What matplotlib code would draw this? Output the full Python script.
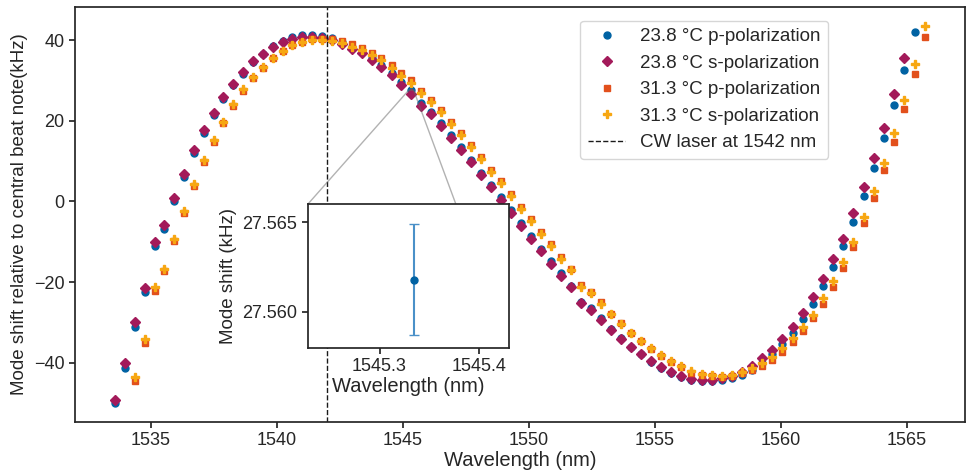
import matplotlib.pyplot as plt
import seaborn as sns

# comb line wavelengths (nm)
wavelength = [
    1533.60, 1533.99, 1534.38, 1534.77, 1535.15, 1535.54, 1535.93, 1536.32, 1536.71, 1537.10,
    1537.49, 1537.88, 1538.27, 1538.66, 1539.05, 1539.45, 1539.84, 1540.23, 1540.62, 1541.01,
    1541.40, 1541.80, 1542.19, 1542.58, 1542.97, 1543.37, 1543.76, 1544.15, 1544.55, 1544.94,
    1545.335, 1545.73, 1546.12, 1546.52, 1546.91, 1547.31, 1547.70, 1548.10, 1548.49, 1548.89,
    1549.29, 1549.68, 1550.08, 1550.48, 1550.87, 1551.27, 1551.67, 1552.06, 1552.46, 1552.86,
    1553.26, 1553.66, 1554.06, 1554.45, 1554.85, 1555.25, 1555.65, 1556.05, 1556.45, 1556.85,
    1557.25, 1557.65, 1558.05, 1558.45, 1558.85, 1559.25, 1559.66, 1560.06, 1560.46, 1560.86,
    1561.26, 1561.67, 1562.07, 1562.47, 1562.87, 1563.28, 1563.68, 1564.08, 1564.49, 1564.89,
    1565.30, 1565.70,
]

# mode shifts (kHz), 23.8 C runs start at the first line, 31.3 C runs at the third
p_238 = [
    -50.0, -41.2, -31.2, -22.5, -11.0, -6.8, 0.0, 6.0, 12.0, 17.0,
    21.5, 25.3, 28.8, 31.7, 34.5, 36.6, 38.5, 39.9, 40.7, 41.2,
    41.3, 41.1, 40.6, 39.6, 38.4, 37.3, 35.5, 33.8, 31.8, 29.6,
    27.5618, 24.4, 22.3, 19.4, 16.4, 13.4, 10.4, 7.1, 4.1, 1.0,
    -2.2, -5.4, -8.6, -11.7, -14.8, -17.7, -20.9, -24.8, -26.5, -29.0,
    -31.6, -33.9, -36.0, -37.9, -39.8, -41.3, -42.6, -43.6, -44.3, -44.6,
    -44.6, -44.3, -43.8, -43.0, -41.7, -40.0, -37.9, -35.4, -32.5, -29.2,
    -25.3, -21.0, -16.2, -11.1, -5.2, 1.4, 8.3, 15.8, 23.9, 32.7,
    42.1,
]
s_238 = [
    -49.2, -40.0, -30.0, -21.4, -10.0, -5.8, 0.8, 6.8, 12.7, 17.7,
    22.0, 25.8, 29.2, 32.1, 34.8, 36.6, 38.3, 39.6, 40.4, 40.8,
    40.8, 40.6, 40.0, 39.0, 37.8, 36.7, 35.0, 33.3, 31.3, 29.0,
    26.7, 23.8, 21.7, 18.8, 15.8, 12.8, 9.8, 6.5, 3.5, 0.4,
    -2.9, -6.0, -9.2, -12.3, -15.4, -18.5, -21.3, -25.2, -26.8, -29.3,
    -31.8, -34.0, -36.0, -37.9, -39.6, -41.1, -42.3, -43.2, -43.9, -44.2,
    -44.2, -43.8, -43.2, -42.2, -40.7, -38.9, -36.7, -34.1, -31.1, -27.7,
    -23.8, -19.3, -14.3, -9.2, -2.9, 3.6, 10.7, 18.3, 26.7, 35.7,
]
p_313 = [
    -44.6, -35.0, -22.1, -17.3, -9.8, -2.8, 3.8, 9.8,
    14.8, 19.4, 23.8, 27.5, 30.7, 33.2, 35.6, 37.3, 38.8, 39.6,
    40.2, 40.4, 40.3, 39.8, 39.0, 38.1, 36.9, 35.7, 33.8, 31.8,
    30.0, 27.3, 25.2, 22.7, 19.8, 17.1, 14.0, 11.0, 7.9, 5.0,
    1.8, -1.3, -4.3, -7.5, -10.6, -13.8, -16.7, -20.8, -22.5, -25.0,
    -27.8, -30.2, -32.5, -34.6, -36.5, -38.3, -39.8, -41.1, -42.5, -43.1,
    -43.3, -43.5, -43.2, -42.6, -41.8, -40.8, -39.2, -37.3, -34.8, -32.1,
    -29.0, -25.3, -21.1, -16.4, -11.3, -5.4, 0.8, 7.7, 14.8, 22.9,
    31.7, 40.7,
]
s_313 = [
    -43.6, -34.0, -21.3, -16.7, -9.2, -2.3, 4.3, 10.2,
    15.2, 19.8, 24.2, 27.8, 30.9, 33.4, 35.7, 37.3, 38.7, 39.5,
    40.0, 40.1, 39.8, 39.2, 38.4, 37.5, 36.3, 35.1, 33.2, 31.2,
    29.4, 26.8, 24.7, 22.2, 19.3, 16.6, 13.5, 10.5, 7.4, 4.5,
    1.3, -1.8, -4.8, -8.0, -11.1, -14.2, -17.1, -21.1, -22.8, -25.3,
    -28.0, -30.4, -32.6, -34.6, -36.4, -38.1, -39.5, -40.8, -42.1, -42.8,
    -43.1, -43.2, -42.9, -42.2, -41.2, -40.0, -38.5, -36.4, -33.8, -31.0,
    -28.2, -24.0, -19.8, -15.0, -10.0, -3.8, 2.7, 9.6, 17.1, 25.2,
    34.2, 43.5,
]

# zoomed point and its uncertainty (kHz)
zoom_idx = 30
zoom_err = 0.0031
cw_laser = 1542

sns.set_theme(style="ticks")
plt.rcParams['font.family'] = ['Liberation Sans', 'DejaVu Sans']

fig = plt.figure(figsize=(9.67, 4.73), dpi=100)
ax = fig.add_axes([0.0776, 0.1078, 0.9204, 0.877])

ax.plot(wavelength[:len(p_238)], p_238, 'o', color='#0062a3', ms=5,
        label='23.8 °C p-polarization')
ax.plot(wavelength[:len(s_238)], s_238, 'D', color='#a31a5a', ms=5,
        label='23.8 °C s-polarization')
ax.plot(wavelength[2:2 + len(p_313)], p_313, 's', color='#e2501c', ms=5,
        label='31.3 °C p-polarization')
ax.plot(wavelength[2:2 + len(s_313)], s_313, 'P', color='#f7a712', ms=6,
        label='31.3 °C s-polarization')
ax.axvline(cw_laser, color='k', ls='--', lw=1, label='CW laser at 1542 nm')

ax.set_xlabel('Wavelength (nm)', fontsize=14.5, labelpad=1)
ax.set_ylabel('Mode shift relative to central beat note(kHz)', fontsize=13.5)
ax.tick_params(labelsize=13, length=4)
ax.legend(loc='upper right', bbox_to_anchor=(0.857, 0.99), fontsize=13.5)

# inset around one data point with its error bar
axins = ax.inset_axes([0.2615, 0.179, 0.2262, 0.346])
axins.errorbar([wavelength[zoom_idx]], [p_238[zoom_idx]], yerr=zoom_err,
               fmt='o', color='#0062a3', ecolor='#4a90c8', ms=5, capsize=3.5)
axins.set_xlim(wavelength[zoom_idx] - 0.107, wavelength[zoom_idx] + 0.095)
axins.set_ylim(p_238[zoom_idx] - 0.0038, p_238[zoom_idx] + 0.0042)
axins.ticklabel_format(useOffset=False)
axins.set_xticks([1545.3, 1545.4], ['1545.3', '1545.4'])
axins.set_yticks([27.560, 27.565], ['27.560', '27.565'])
axins.set_xlabel('Wavelength (nm)', fontsize=14.5, labelpad=1)
axins.set_ylabel('Mode shift (kHz)', fontsize=13.5)
axins.tick_params(labelsize=13, length=4)
ax.indicate_inset_zoom(axins, edgecolor='0.4')

fig.savefig('out.png', dpi=100)
